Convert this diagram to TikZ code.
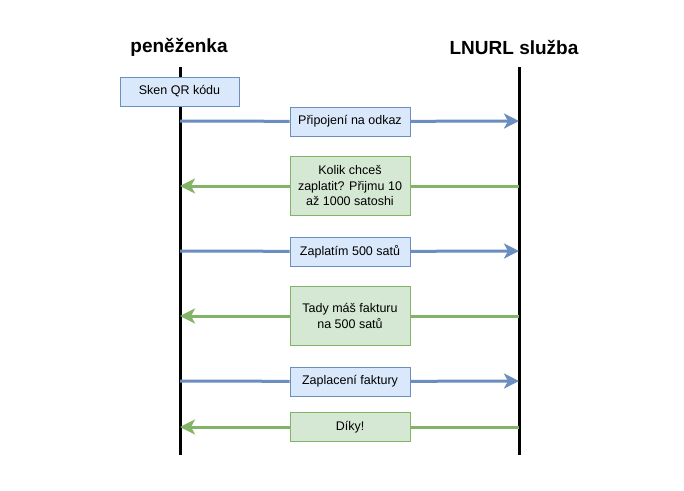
\documentclass[tikz,border=0pt]{standalone}
\usepackage{fontspec}
\setmainfont{Liberation Sans}
\usepackage{xcolor}
\usetikzlibrary{arrows.meta,positioning}
\definecolor{modraCara}{HTML}{6C8EBF}
\definecolor{modraVypln}{HTML}{DAE8FC}
\definecolor{zelenaCara}{HTML}{82B366}
\definecolor{zelenaVypln}{HTML}{D5E8D4}

\tikzset{
  zivot/.style={line width=3pt, black},
  dotaz/.style={draw=modraCara, fill=modraVypln, line width=0.8pt, minimum width=120pt,
    minimum height=29pt, align=center, font=\fontsize{12.5}{15.5}\selectfont},
  odpoved/.style={dotaz, draw=zelenaCara, fill=zelenaVypln},
  modraSipka/.style={line width=3pt, modraCara},
  zelenaSipka/.style={line width=3pt, zelenaCara},
  hrot/.style={-{Stealth[length=15pt,width=15pt,inset=4pt]}},
  nadpis/.style={font=\bfseries\fontsize{19}{22}\selectfont}
}

\begin{document}
\begin{tikzpicture}[x=1pt,y=-1pt]
\useasboundingbox (0,0) rectangle (684,490);

% lifelines
\path
  (180,67) coordinate (penTop)
  (180,455) coordinate (penBot)
  (519,67) coordinate (lnTop)
  (519,455) coordinate (lnBot);
\draw[zivot] (penTop) -- (penBot);
\draw[zivot] (lnTop) -- (lnBot);

\node[nadpis] (penezenka) at (179,47) {peněženka};
\node[nadpis] (sluzba) at (514,47) {LNURL služba};

\node[dotaz, minimum width=119pt] (sken) at (179.5,91.5) {Sken QR kódu};

% zpravy
\path
  (180,121) coordinate (L1) (519,121) coordinate (R1)
  (180,186) coordinate (L2) (519,186) coordinate (R2)
  (180,251) coordinate (L3) (519,251) coordinate (R3)
  (180,316) coordinate (L4) (519,316) coordinate (R4)
  (180,381) coordinate (L5) (519,381) coordinate (R5)
  (180,427) coordinate (L6) (519,427) coordinate (R6);

\node[dotaz] (pripojeni) at (350,121.5) {Připojení na odkaz};
\node[odpoved, minimum height=59pt] (kolik) at (350,186) {Kolik chceš\\zaplatit? Přijmu 10\\až 1000 satoshi};
\node[dotaz] (zaplatim) at (350,251.5) {Zaplatím 500 satů};
\node[odpoved, minimum height=59pt] (faktura) at (350,316) {Tady máš fakturu\\na 500 satů};
\node[dotaz] (zaplaceni) at (350,381.5) {Zaplacení faktury};
\node[odpoved] (diky) at (350,427) {Díky!};

\draw[modraSipka] (L1) -- (pripojeni);
\draw[modraSipka, hrot] (pripojeni) -- (R1);
\draw[zelenaSipka] (R2) -- (kolik);
\draw[zelenaSipka, hrot] (kolik) -- (L2);
\draw[modraSipka] (L3) -- (zaplatim);
\draw[modraSipka, hrot] (zaplatim) -- (R3);
\draw[zelenaSipka] (R4) -- (faktura);
\draw[zelenaSipka, hrot] (faktura) -- (L4);
\draw[modraSipka] (L5) -- (zaplaceni);
\draw[modraSipka, hrot] (zaplaceni) -- (R5);
\draw[zelenaSipka] (R6) -- (diky);
\draw[zelenaSipka, hrot] (diky) -- (L6);
\end{tikzpicture}
\end{document}
